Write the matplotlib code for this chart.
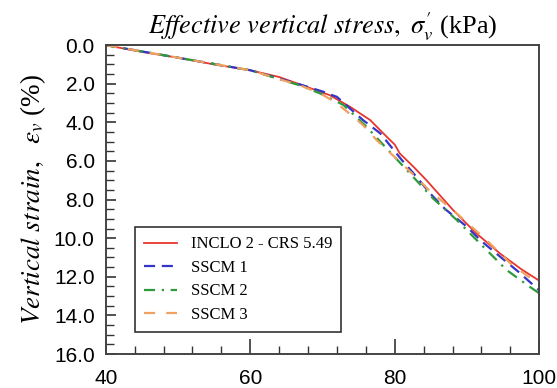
import matplotlib
matplotlib.use("Agg")
import matplotlib.pyplot as plt
from matplotlib.ticker import MultipleLocator, FormatStrFormatter

plt.rcParams["mathtext.fontset"] = "stix"

# Effective vertical stress (kPa) / vertical strain (%)
inclo_x = [40, 45, 50, 55, 60, 64, 67, 71.0, 73.8, 76.6, 78.9, 80.0, 80.7, 82.6, 84.4, 88.1, 91.3, 94.6, 97.5, 100]
inclo_y = [0, 0.35, 0.65, 1.0, 1.3, 1.65, 2.05, 2.59, 3.19, 3.88, 4.75, 5.15, 5.61, 6.3, 7.0, 8.55, 9.75, 10.8, 11.6, 12.2]

sscm1_x = [40, 50, 60, 67, 70, 72.0, 75.6, 78.0, 81.0, 82.6, 84.9, 87, 90, 92, 94.6, 97, 100]
sscm1_y = [0, 0.65, 1.3, 2.05, 2.4, 2.68, 3.88, 4.57, 5.96, 6.64, 7.68, 8.5, 9.41, 10.15, 10.96, 11.7, 12.7]

sscm2_x = [40, 50, 60, 67, 70, 72.9, 76.1, 79.1, 82.1, 85.3, 88.6, 91.8, 95.5, 98.7, 100]
sscm2_y = [0, 0.65, 1.3, 2.1, 2.55, 3.1, 4.23, 5.44, 6.64, 7.94, 9.06, 10.27, 11.65, 12.52, 12.85]

sscm3_x = [40, 50, 60, 67, 69.7, 71.7, 74.0, 75.6, 77.5, 80, 82, 85, 88.6, 92.7, 96, 100]
sscm3_y = [0, 0.65, 1.3, 2.1, 2.5, 2.94, 3.62, 4.14, 4.92, 5.8, 6.5, 7.6, 8.72, 10.1, 11.3, 12.4]

fig = plt.figure(figsize=(5.57, 3.88), dpi=100)
ax = fig.add_axes([0.190, 0.0876, 0.778, 0.796])

ax.plot(inclo_x, inclo_y, color="#e8352e", lw=1.3, label="INCLO 2 - CRS 5.49")
ax.plot(sscm1_x, sscm1_y, color="#3535c8", lw=1.6, ls=(0, (5, 3)), label="SSCM 1")
ax.plot(sscm2_x, sscm2_y, color="#2f9a3c", lw=1.6, ls=(0, (5, 3, 1, 3)), label="SSCM 2")
ax.plot(sscm3_x, sscm3_y, color="#f0a060", lw=1.6, ls=(0, (5, 5)), label="SSCM 3")

ax.set_xlim(40, 100)
ax.set_ylim(16, 0)
ax.xaxis.set_major_locator(MultipleLocator(20))
ax.xaxis.set_minor_locator(MultipleLocator(4))
ax.yaxis.set_major_locator(MultipleLocator(2))
ax.yaxis.set_minor_locator(MultipleLocator(0.5))
ax.yaxis.set_major_formatter(FormatStrFormatter("%.1f"))

ax.tick_params(axis="x", which="major", direction="in", length=11, width=1.2,
               labelsize=15, pad=11, colors="#333333", labelcolor="black")
ax.tick_params(axis="x", which="minor", direction="in", length=6, width=1.0, colors="#333333")
ax.tick_params(axis="y", which="major", direction="in", length=7, width=1.2,
               labelsize=15, pad=8, colors="#333333", labelcolor="black")
ax.tick_params(axis="y", which="minor", direction="in", length=6, width=1.0, colors="#333333")
for lab in ax.get_xticklabels() + ax.get_yticklabels():
    lab.set_fontfamily("Liberation Sans")

for s in ax.spines.values():
    s.set_linewidth(1.4)
    s.set_color("#444444")

ax.xaxis.set_label_position("top")
ax.set_xlabel(r"$\mathit{Effective\ vertical\ stress,}\ \sigma^{\prime}_{v}$ (kPa)",
              fontsize=19, family="Liberation Serif", labelpad=8)
ax.set_ylabel(r"$\mathit{Vertical\ strain,}\ \ \varepsilon_{v}$ (%)",
              fontsize=19.5, family="Liberation Serif", labelpad=4)

leg = ax.legend(loc="lower left", bbox_to_anchor=(0.067, 0.071), borderaxespad=0,
                frameon=True, fancybox=False, edgecolor="black",
                prop={"family": "Liberation Serif", "size": 12},
                handlelength=2.0, handletextpad=0.8, borderpad=0.55, labelspacing=0.45)
leg.get_frame().set_linewidth(1.2)

plt.savefig("out.png", dpi=100)
plt.close()
